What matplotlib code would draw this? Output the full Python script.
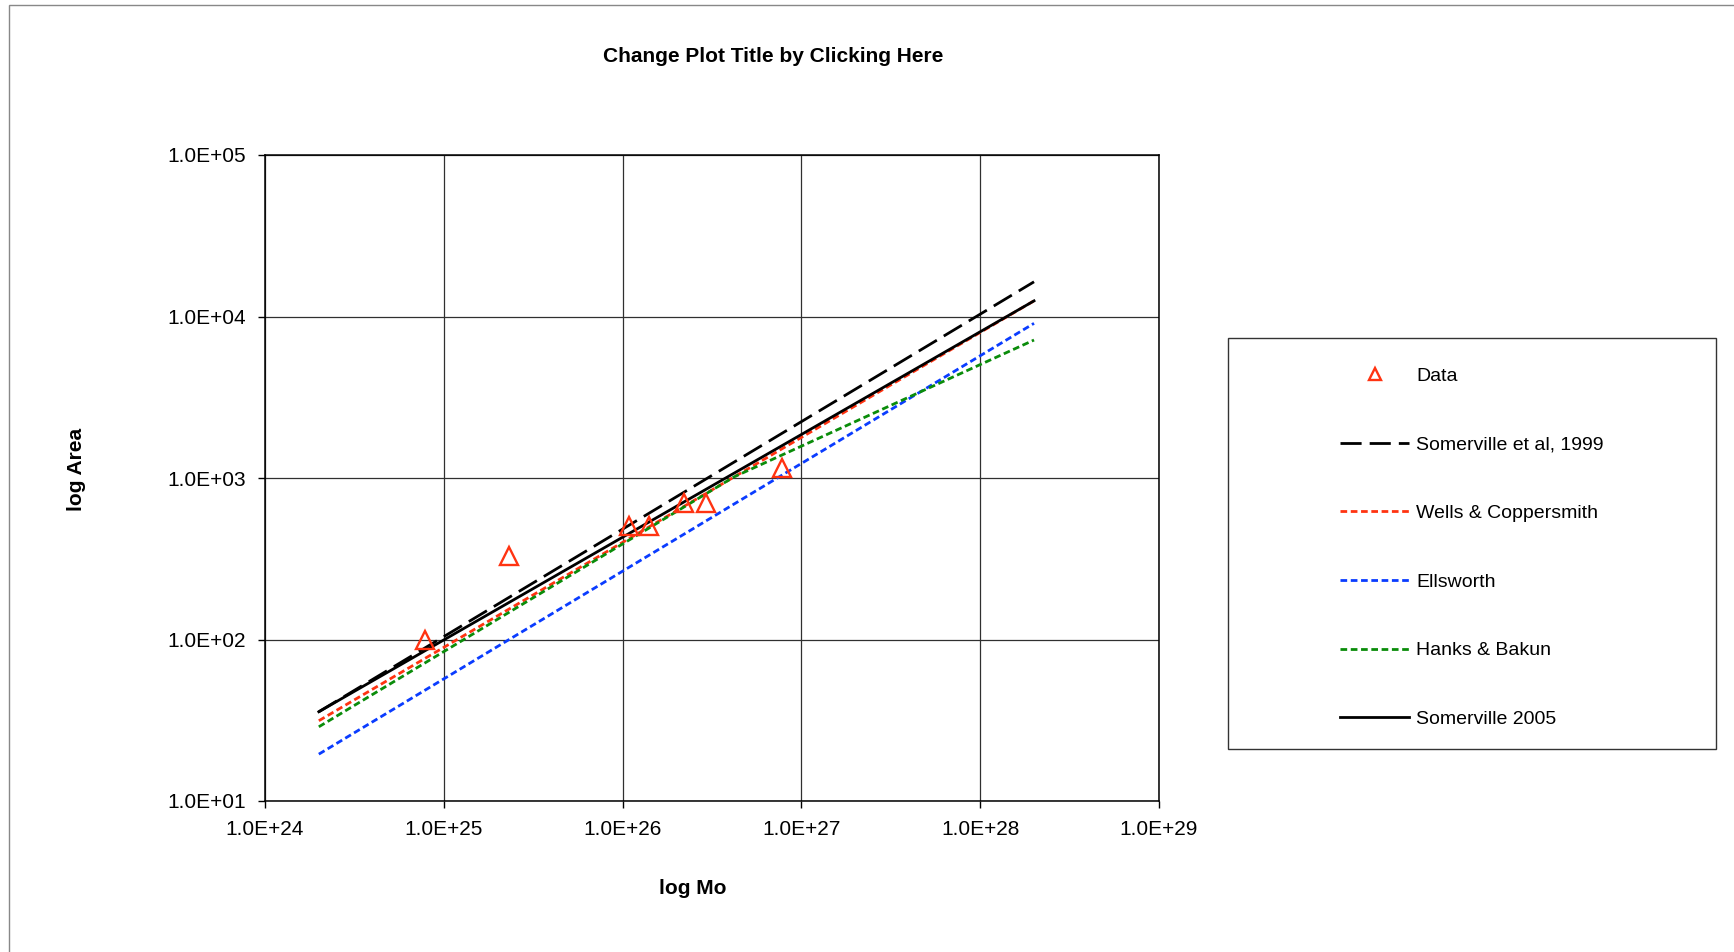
import matplotlib
matplotlib.use('Agg')
import matplotlib.pyplot as plt
from matplotlib.ticker import FuncFormatter, LogLocator, NullLocator
from matplotlib.patches import Rectangle

plt.rcParams['font.family'] = ['Liberation Sans', 'DejaVu Sans']

# observed events (Mo in dyne-cm, area in km^2)
data_mo = [7.8e24, 2.32e25, 1.09e26, 1.41e26, 2.20e26, 2.92e26, 7.82e26]
data_area = [100, 330, 507, 507, 702, 702, 1148]

line_mo = [2.0e24, 2.0e28]
som1999_area = [35.7, 16400]
wells_area = [31.4, 12500]
ellsworth_area = [19.5, 9070]
som2005_area = [35.7, 12500]
hanks_mo = [2.0e24, 4.2e26, 2.0e28]
hanks_area = [28.8, 1016, 7150]

W, H = 1734, 952
fig = plt.figure(figsize=(W / 100, H / 100), dpi=100)
ax = fig.add_axes([265 / W, 1 - 801 / H, (1159 - 265) / W, (801 - 155) / H])

red = '#FF3311'
blue = '#0A3CFF'
green = '#0A8C0A'

ax.plot(data_mo, data_area, linestyle='none', marker='^', markersize=13,
        markerfacecolor='none', markeredgecolor=red, markeredgewidth=1.7,
        label='Data', zorder=5)
ax.plot(line_mo, som1999_area, color='black', lw=2.0, dashes=(7.6, 2.9),
        label='Somerville et al, 1999')
ax.plot(line_mo, wells_area, color=red, lw=2.0, dashes=(2.4, 1.3),
        label='Wells & Coppersmith')
ax.plot(line_mo, ellsworth_area, color=blue, lw=2.0, dashes=(2.4, 1.3),
        label='Ellsworth')
ax.plot(hanks_mo, hanks_area, color=green, lw=2.0, dashes=(2.4, 1.3),
        label='Hanks & Bakun')
ax.plot(line_mo, som2005_area, color='black', lw=2.0, label='Somerville 2005')

ax.set_xscale('log')
ax.set_yscale('log')
ax.set_xlim(1e24, 1e29)
ax.set_ylim(1e1, 1e5)
ax.xaxis.set_major_locator(LogLocator(base=10, numticks=10))
ax.yaxis.set_major_locator(LogLocator(base=10, numticks=10))
ax.xaxis.set_minor_locator(NullLocator())
ax.yaxis.set_minor_locator(NullLocator())
fmt = FuncFormatter(lambda v, p: '%.1E' % v)
ax.xaxis.set_major_formatter(fmt)
ax.yaxis.set_major_formatter(fmt)
ax.tick_params(axis='both', direction='out', length=5, width=1, labelsize=15)
ax.tick_params(axis='x', pad=9)
ax.tick_params(axis='y', pad=9)
ax.grid(True, color='#303030', lw=0.9)
for s in ax.spines.values():
    s.set_linewidth(1.1)

fig.text(773 / W, 1 - 57 / H, 'Change Plot Title by Clicking Here',
         ha='center', va='center', fontsize=15, fontweight='bold')
fig.text(693 / W, 1 - 888 / H, 'log Mo', ha='center', va='center',
         fontsize=15, fontweight='bold')
fig.text(76 / W, 1 - 469 / H, 'log Area', ha='center', va='center',
         fontsize=15, fontweight='bold', rotation=90)

leg = ax.legend(loc='upper left', bbox_to_anchor=(1340 / W, 1 - 367.5 / H),
                bbox_transform=fig.transFigure, frameon=False, fontsize=14,
                borderpad=0, borderaxespad=0, labelspacing=2.62,
                handlelength=3.55, handletextpad=0.36, markerscale=0.65)

# legend box and outer chart border
fig.patches.append(Rectangle((1228 / W, 1 - 749 / H), (1716 - 1228) / W,
                             (749 - 338) / H, transform=fig.transFigure,
                             fill=False, edgecolor='#333333', lw=1))
fig.patches.append(Rectangle((9 / W, -0.1), 1.2, 1.1 - 5 / H,
                             transform=fig.transFigure, fill=False,
                             edgecolor='#888888', lw=1))

fig.savefig('out.png', dpi=100)
